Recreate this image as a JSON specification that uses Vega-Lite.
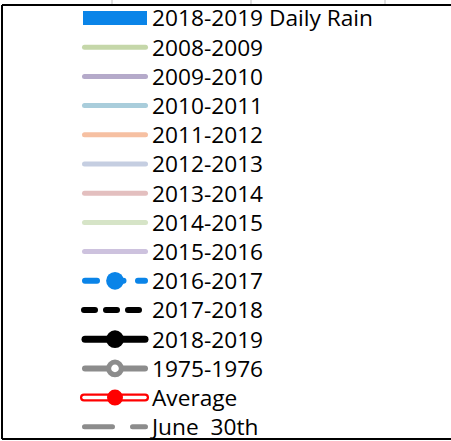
{
  "$schema": "https://vega.github.io/schema/vega-lite/v6.json",
  "width": 449,
  "height": 434,
  "padding": {"left": 2, "top": 5, "right": 0, "bottom": 2},
  "autosize": {"type": "none"},
  "background": "white",
  "view": {"stroke": null},
  "config": {"axis": {"disable": true}},
  "data": {"values": [
    {"label": "2018-2019 Daily Rain", "i": 1},
    {"label": "2008-2009", "i": 2},
    {"label": "2009-2010", "i": 3},
    {"label": "2010-2011", "i": 4},
    {"label": "2011-2012", "i": 5},
    {"label": "2012-2013", "i": 6},
    {"label": "2013-2014", "i": 7},
    {"label": "2014-2015", "i": 8},
    {"label": "2015-2016", "i": 9},
    {"label": "2016-2017", "i": 10},
    {"label": "2017-2018", "i": 11},
    {"label": "2018-2019", "i": 12},
    {"label": "1975-1976", "i": 13},
    {"label": "Average", "i": 14},
    {"label": "\u00a0June\u00a0\u00a030th", "i": 15}
  ]},
  "encoding": {
    "y": {"field": "i", "type": "quantitative", "scale": {"domain": [0.5548, 15.418], "reverse": true, "zero": false, "nice": false}, "axis": null},
    "x": {"datum": 0, "type": "quantitative", "scale": {"domain": [0, 449], "nice": false, "zero": false}, "axis": null}
  },
  "layer": [
    {
      "transform": [{"filter": "datum.i == 1"}],
      "mark": {"type": "rule", "color": "black", "strokeWidth": 2},
      "encoding": {"x": {"datum": 0}, "y": {"datum": 0.5548}, "y2": {"datum": 15.418}}
    },
    {
      "transform": [{"filter": "datum.i == 1"}],
      "mark": {"type": "rule", "color": "black", "strokeWidth": 2},
      "encoding": {"x": {"datum": 0}, "x2": {"datum": 449}, "y": {"datum": 0.5548}}
    },
    {
      "transform": [{"filter": "datum.i == 1"}],
      "mark": {"type": "rule", "color": "black", "strokeWidth": 2},
      "encoding": {"x": {"datum": 0}, "x2": {"datum": 449}, "y": {"datum": 15.418}}
    },
    {
      "transform": [{"filter": "datum.i == 1"}],
      "mark": {"type": "rule", "color": "#BFBFBF", "strokeWidth": 1},
      "encoding": {"x": {"datum": 110}, "y": {"datum": 0.3836}, "y2": {"datum": 0.52}}
    },
    {
      "transform": [{"filter": "datum.i == 1"}],
      "mark": {"type": "rule", "color": "#BFBFBF", "strokeWidth": 1},
      "encoding": {"x": {"datum": 249}, "y": {"datum": 0.3836}, "y2": {"datum": 0.52}}
    },
    {
      "transform": [{"filter": "datum.i == 1"}],
      "mark": {"type": "rule", "color": "#BFBFBF", "strokeWidth": 1},
      "encoding": {"x": {"datum": 383}, "y": {"datum": 0.3836}, "y2": {"datum": 0.52}}
    },
    {
      "transform": [{"filter": "datum.i == 1"}],
      "mark": {"type": "rule", "color": "#0A84E8", "strokeWidth": 14, "strokeCap": "butt"},
      "encoding": {"x": {"datum": 81}, "x2": {"datum": 145}}
    },
    {
      "transform": [{"filter": "datum.i >= 2 && datum.i <= 9"}],
      "mark": {"type": "rule", "strokeWidth": 5, "strokeCap": "round"},
      "encoding": {
        "x": {"datum": 82.5}, "x2": {"datum": 143.5},
        "color": {"field": "label", "type": "nominal", "legend": null, "scale": {
          "domain": ["2008-2009", "2009-2010", "2010-2011", "2011-2012", "2012-2013", "2013-2014", "2014-2015", "2015-2016"],
          "range": ["#C5D7A9", "#B5AACA", "#A9CDDB", "#F6C0A2", "#C5CEE1", "#E3BFBF", "#D6E4C7", "#CDC2DE"]}}
      }
    },
    {
      "transform": [{"filter": "datum.i == 10"}],
      "mark": {"type": "rule", "color": "#0A84E8", "strokeWidth": 6, "strokeCap": "round", "strokeDash": [12, 14.5]},
      "encoding": {"x": {"datum": 83}, "x2": {"datum": 143}}
    },
    {
      "transform": [{"filter": "datum.i == 10"}],
      "mark": {"type": "point", "shape": "circle", "filled": true, "color": "#0A84E8", "size": 314, "opacity": 1},
      "encoding": {"x": {"datum": 113}}
    },
    {
      "transform": [{"filter": "datum.i == 11"}],
      "mark": {"type": "rule", "color": "black", "strokeWidth": 6, "strokeCap": "round", "strokeDash": [11, 11]},
      "encoding": {"x": {"datum": 82}, "x2": {"datum": 143}}
    },
    {
      "transform": [{"filter": "datum.i == 12"}],
      "mark": {"type": "rule", "color": "black", "strokeWidth": 7, "strokeCap": "round"},
      "encoding": {"x": {"datum": 83}, "x2": {"datum": 143}}
    },
    {
      "transform": [{"filter": "datum.i == 12"}],
      "mark": {"type": "point", "shape": "circle", "filled": true, "color": "black", "size": 314, "opacity": 1},
      "encoding": {"x": {"datum": 113}}
    },
    {
      "transform": [{"filter": "datum.i == 13"}],
      "mark": {"type": "rule", "color": "#8C8C8C", "strokeWidth": 6, "strokeCap": "round"},
      "encoding": {"x": {"datum": 83}, "x2": {"datum": 143}}
    },
    {
      "transform": [{"filter": "datum.i == 13"}],
      "mark": {"type": "point", "shape": "circle", "filled": false, "fill": "white", "fillOpacity": 1, "stroke": "#8C8C8C", "strokeWidth": 5, "size": 160, "opacity": 1},
      "encoding": {"x": {"datum": 113}}
    },
    {
      "transform": [{"filter": "datum.i == 14"}],
      "mark": {"type": "rule", "color": "#FF0000", "strokeWidth": 8, "strokeCap": "round"},
      "encoding": {"x": {"datum": 82}, "x2": {"datum": 143}}
    },
    {
      "transform": [{"filter": "datum.i == 14"}],
      "mark": {"type": "rule", "color": "white", "strokeWidth": 3.5, "strokeCap": "round"},
      "encoding": {"x": {"datum": 82}, "x2": {"datum": 143}}
    },
    {
      "transform": [{"filter": "datum.i == 14"}],
      "mark": {"type": "point", "shape": "circle", "filled": true, "color": "#FF0000", "size": 254, "opacity": 1},
      "encoding": {"x": {"datum": 113}}
    },
    {
      "transform": [{"filter": "datum.i == 15"}],
      "mark": {"type": "rule", "color": "#8C8C8C", "strokeWidth": 5, "strokeCap": "round", "strokeDash": [28, 20]},
      "encoding": {"x": {"datum": 82.5}, "x2": {"datum": 143.5}}
    },
    {
      "mark": {"type": "text", "align": "left", "baseline": "alphabetic", "dy": 8.5, "font": "Open Sans", "fontSize": 22.7, "color": "black"},
      "encoding": {"x": {"datum": 150}, "text": {"field": "label"}}
    }
  ]
}
